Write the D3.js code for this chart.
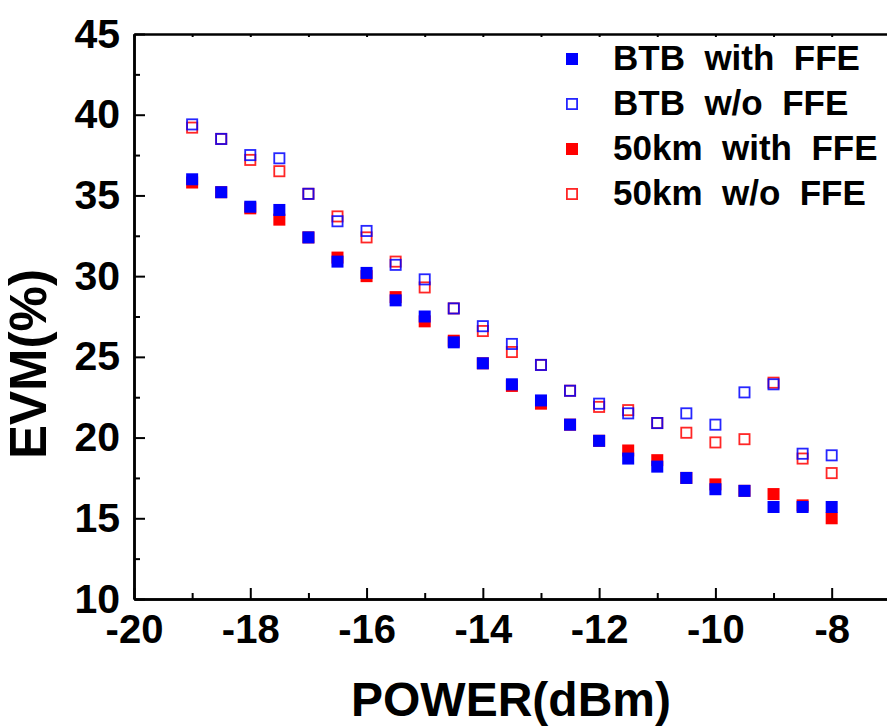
<!DOCTYPE html>
<html>
<head>
<meta charset="utf-8">
<script src="https://cdn.jsdelivr.net/npm/d3@7"></script>
<style>
  html, body { margin: 0; padding: 0; background: #fff; }
  svg { display: block; font-family: "Liberation Sans", Arial, sans-serif; }
</style>
</head>
<body>
<svg id="chart" width="887" height="726"></svg>
<script>
const power = [-19, -18.5, -18, -17.5, -17, -16.5, -16, -15.5, -15, -14.5, -14, -13.5, -13, -12.5, -12, -11.5, -11, -10.5, -10, -9.5, -9, -8.5, -8];
const btbWithFFE = [36.0, 35.2, 34.3, 34.1, 32.4, 30.9, 30.2, 28.5, 27.5, 25.9, 24.6, 23.3, 22.3, 20.8, 19.8, 18.7, 18.2, 17.5, 16.8, 16.7, 15.7, 15.7, 15.7];
const btbWoFFE   = [39.4, 38.5, 37.5, 37.3, 35.1, 33.4, 32.8, 30.7, 29.8, 28.0, 26.9, 25.8, 24.5, 22.9, 22.1, 21.5, 20.9, 21.5, 20.8, 22.8, 23.3, 19.0, 18.9];
const km50WithFFE = [35.8, 35.2, 34.2, 33.5, 32.4, 31.15, 30.0, 28.7, 27.2, 26.0, 24.6, 23.2, 22.1, 20.8, 19.8, 19.2, 18.6, 17.5, 17.1, 16.7, 16.5, 15.8, 15.0];
const km50WoFFE   = [39.2, 38.5, 37.2, 36.5, 35.1, 33.7, 32.4, 30.9, 29.3, 28.0, 26.6, 25.3, 24.5, 22.9, 21.9, 21.7, 20.9, 20.3, 19.7, 19.9, 23.4, 18.7, 17.8];
const seriesNames = ["BTB  with  FFE", "BTB  w/o  FFE", "50km  with  FFE", "50km  w/o  FFE"];
const xMajorTicks = [-20, -18, -16, -14, -12, -10, -8];
const xMinorTicks = [-19, -17, -15, -13, -11, -9];
const yMajorTicks = [10, 15, 20, 25, 30, 35, 40, 45];
const yMinorTicks = [12.5, 17.5, 22.5, 27.5, 32.5, 37.5, 42.5];
const xLabel = "POWER(dBm)";
const yLabel = "EVM(%)";

const svg = d3.select("#chart");
const L = 134, T = 34, B = 599;
const x = d3.scaleLinear().domain([-20, -7]).range([L, L + 13 * 58.14]);
const y = d3.scaleLinear().domain([10, 45]).range([B, T]);

const series = [
  { name: seriesNames[2], vals: km50WithFFE, color: "#ff0000", filled: true },
  { name: seriesNames[3], vals: km50WoFFE, color: "#ff0000", filled: false },
  { name: seriesNames[0], vals: btbWithFFE, color: "#0000ff", filled: true },
  { name: seriesNames[1], vals: btbWoFFE, color: "#0000ff", filled: false }
];

const axW = 2.5;
function styleAxis(g) {
  g.selectAll("path.domain").attr("stroke", "#000").attr("stroke-width", axW);
  g.selectAll(".tick line").attr("stroke", "#000").attr("stroke-width", 2);
}
const gxb = svg.append("g").attr("transform", `translate(0,${B})`)
  .call(d3.axisBottom(x).tickValues(xMajorTicks).tickSizeInner(-11).tickSizeOuter(0).tickPadding(16));
styleAxis(gxb);
gxb.selectAll("text").attr("font-size", 40).attr("font-weight", "bold").attr("fill", "#000").text(d => String(d));
const gxm = svg.append("g").attr("transform", `translate(0,${B})`)
  .call(d3.axisBottom(x).tickValues(xMinorTicks).tickSizeInner(-6).tickSizeOuter(0).tickFormat(""));
styleAxis(gxm);
const gxt = svg.append("g").attr("transform", `translate(0,${T})`)
  .call(d3.axisTop(x).tickValues(d3.range(-20, -6, 1)).tickSizeInner(-3).tickSizeOuter(0).tickFormat(""));
styleAxis(gxt);
const gyl = svg.append("g").attr("transform", `translate(${L},0)`)
  .call(d3.axisLeft(y).tickValues(yMajorTicks).tickSizeInner(-11).tickSizeOuter(0).tickPadding(14));
styleAxis(gyl);
gyl.selectAll("text").attr("font-size", 41).attr("font-weight", "bold").attr("fill", "#000");
const gym = svg.append("g").attr("transform", `translate(${L},0)`)
  .call(d3.axisLeft(y).tickValues(yMinorTicks).tickSizeInner(-6).tickSizeOuter(0).tickFormat(""));
styleAxis(gym);

svg.append("text").attr("x", 511).attr("y", 716).attr("text-anchor", "middle")
  .attr("font-size", 48).attr("font-weight", "bold").text(xLabel);
svg.append("text").attr("transform", "translate(46,364) rotate(-90)").attr("text-anchor", "middle")
  .attr("font-size", 51).attr("font-weight", "bold").text(yLabel);

const S = 12;
series.forEach(s => {
  const g = svg.append("g");
  g.selectAll("rect").data(power.map((p, i) => [p, s.vals[i]])).join("rect")
    .attr("x", d => x(d[0]) - S / 2 + (s.filled ? 0 : 0.9))
    .attr("y", d => y(d[1]) - S / 2 + (s.filled ? 0 : 0.9))
    .attr("width", s.filled ? S : S - 1.8)
    .attr("height", s.filled ? S : S - 1.8)
    .attr("fill", s.filled ? s.color : "none")
    .attr("stroke", s.filled ? "none" : s.color)
    .attr("stroke-width", 1.8)
    .attr("stroke-opacity", 0.85);
});

const legendOrder = [series[2], series[3], series[0], series[1]];
const lg = svg.append("g");
legendOrder.forEach((s, i) => {
  const cy = 59 + i * 45;
  lg.append("rect")
    .attr("x", 572 - S / 2 + (s.filled ? 0 : 0.9)).attr("y", cy - S / 2 + (s.filled ? 0 : 0.9))
    .attr("width", s.filled ? S : S - 1.8).attr("height", s.filled ? S : S - 1.8)
    .attr("fill", s.filled ? s.color : "none")
    .attr("stroke", s.filled ? "none" : s.color).attr("stroke-width", 1.8).attr("stroke-opacity", 0.85);
  lg.append("text").attr("x", 613).attr("y", cy + 11)
    .attr("font-size", 35).attr("font-weight", "bold").attr("fill", "#000")
    .style("white-space", "pre").attr("xml:space", "preserve").text(s.name);
});
</script>
</body>
</html>
